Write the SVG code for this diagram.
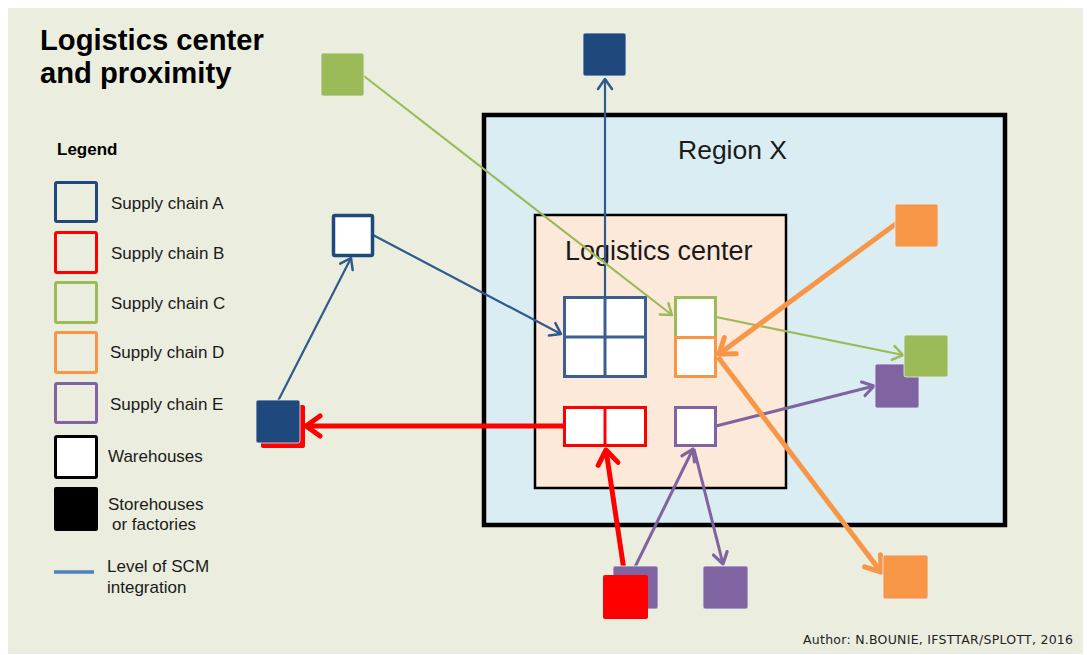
<svg xmlns="http://www.w3.org/2000/svg" width="1087" height="655" viewBox="0 0 1087 655">
<style>
text{font-family:"Liberation Sans",Arial,sans-serif;fill:#1a1a1a}
.title{font-size:29.2px;font-weight:bold;fill:#000}
.leg{font-size:17px}
.big{font-size:27px}
.lgbox{fill:none;stroke-width:3}
.solid{stroke:#e8ecf4;stroke-width:0.8}
.thin{fill:none;stroke-width:2.2}
.purp{fill:none;stroke-width:3}
.thick{fill:none;stroke-width:5}
</style>
<defs>
<marker id="aBlue" markerUnits="userSpaceOnUse" orient="auto" refX="0" refY="0" markerWidth="30" markerHeight="30" viewBox="-15 -15 30 30" overflow="visible"><path d="M-10,-7 L0,0 L-10,7" fill="none" stroke="#2E5A8E" stroke-width="2.5" stroke-linecap="round" stroke-linejoin="round"/></marker>
<marker id="aGreen" markerUnits="userSpaceOnUse" orient="auto" refX="0" refY="0" markerWidth="30" markerHeight="30" viewBox="-15 -15 30 30" overflow="visible"><path d="M-10,-7 L0,0 L-10,7" fill="none" stroke="#9BBB59" stroke-width="2.5" stroke-linecap="round" stroke-linejoin="round"/></marker>
<marker id="aPurple" markerUnits="userSpaceOnUse" orient="auto" refX="0" refY="0" markerWidth="30" markerHeight="30" viewBox="-15 -15 30 30" overflow="visible"><path d="M-11,-7 L0,0 L-11,7" fill="none" stroke="#8064A2" stroke-width="3.2" stroke-linecap="round" stroke-linejoin="round"/></marker>
<marker id="aOrange" markerUnits="userSpaceOnUse" orient="auto" refX="0" refY="0" markerWidth="40" markerHeight="40" viewBox="-20 -20 40 40" overflow="visible"><path d="M-14,-10 L0,0 L-14,10" fill="none" stroke="#F79646" stroke-width="5" stroke-linecap="round" stroke-linejoin="round"/></marker>
<marker id="aRed" markerUnits="userSpaceOnUse" orient="auto" refX="0" refY="0" markerWidth="40" markerHeight="40" viewBox="-20 -20 40 40" overflow="visible"><path d="M-14,-10 L0,0 L-14,10" fill="none" stroke="#FF0000" stroke-width="5" stroke-linecap="round" stroke-linejoin="round"/></marker>
</defs>

<rect x="0" y="0" width="1087" height="655" fill="#ffffff"/>
<rect x="8" y="8" width="1075" height="646" fill="#EBEEDE"/>

<g id="title">
<text class="title" x="40" y="50">Logistics center</text>
<text class="title" x="40" y="83">and proximity</text>
</g>

<g id="legend">
<text x="57" y="155" style="font-size:17px;font-weight:bold;fill:#000">Legend</text>
<rect class="lgbox" x="55.5" y="182.5" width="41" height="39" rx="1.5" stroke="#1F497D"/>
<text class="leg" x="111" y="209">Supply chain A</text>
<rect class="lgbox" x="55.5" y="232.5" width="41" height="40" rx="1.5" stroke="#FF0000"/>
<text class="leg" x="111" y="259">Supply chain B</text>
<rect class="lgbox" x="55.5" y="282.5" width="41" height="40" rx="1.5" stroke="#9BBB59"/>
<text class="leg" x="111" y="309">Supply chain C</text>
<rect class="lgbox" x="55.5" y="332.5" width="41" height="40" rx="1.5" stroke="#F79646"/>
<text class="leg" x="110" y="358">Supply chain D</text>
<rect class="lgbox" x="55.5" y="383.5" width="41" height="39" rx="1.5" stroke="#8064A2"/>
<text class="leg" x="110" y="410">Supply chain E</text>
<rect x="55.5" y="436.5" width="41" height="41" rx="1.5" fill="#fff" stroke="#000" stroke-width="3"/>
<text class="leg" x="108" y="462">Warehouses</text>
<rect x="54" y="487" width="44" height="44" rx="2" fill="#000"/>
<text class="leg" x="108" y="510">Storehouses</text>
<text class="leg" x="112" y="530">or factories</text>
<line x1="54" y1="572" x2="94" y2="572" stroke="#4F81BD" stroke-width="3.5"/>
<text class="leg" x="107" y="572">Level of SCM</text>
<text class="leg" x="107" y="593">integration</text>
</g>

<g id="region-x">
<rect x="484" y="115" width="521" height="410" fill="#DAEDF3" stroke="#000" stroke-width="4.5"/>
<text class="big" x="678" y="159" style="font-size:26.5px">Region X</text>
</g>

<g id="logistics-center">
<rect x="535" y="215" width="251" height="273" fill="#FDE9D9" stroke="#000" stroke-width="2.5"/>
<text class="big" x="565" y="260">Logistics center</text>
</g>

<g id="wh-A-grid">
<rect x="564.5" y="297.5" width="81" height="79" fill="#fff" stroke="#3B6090" stroke-width="3"/>
<line x1="605" y1="297.5" x2="605" y2="376.5" stroke="#3B6090" stroke-width="3"/>
<line x1="564.5" y1="337" x2="645.5" y2="337" stroke="#3B6090" stroke-width="3"/>
</g>
<g id="wh-C">
<rect x="675.5" y="297.5" width="40" height="40" fill="#fff" stroke="#9BBB59" stroke-width="3"/>
</g>
<g id="wh-D">
<rect x="675.5" y="337.5" width="40" height="39" fill="#fff" stroke="#F79646" stroke-width="3"/>
</g>
<g id="wh-B">
<rect x="564.5" y="407.5" width="81" height="38" fill="#fff" stroke="#FF0000" stroke-width="3"/>
<line x1="605" y1="407.5" x2="605" y2="445.5" stroke="#FF0000" stroke-width="3"/>
</g>
<g id="wh-E">
<rect x="675.5" y="407.5" width="40" height="38" fill="#fff" stroke="#8064A2" stroke-width="3"/>
</g>

<g id="connectors">
<line class="thin" x1="605" y1="297" x2="605" y2="79" stroke="#2E5A8E" marker-end="url(#aBlue)"/>
<line class="thin" x1="360" y1="73" x2="672" y2="315" stroke="#9BBB59" marker-end="url(#aGreen)"/>
<line class="thin" x1="716" y1="317" x2="903" y2="355" stroke="#9BBB59" marker-end="url(#aGreen)"/>
<line class="thin" x1="373" y1="235" x2="561" y2="334" stroke="#2E5A8E" marker-end="url(#aBlue)"/>
<line class="thin" x1="278" y1="401" x2="351" y2="258" stroke="#2E5A8E" marker-end="url(#aBlue)"/>
<line class="purp" x1="635" y1="567" x2="693" y2="449" stroke="#8064A2" marker-end="url(#aPurple)"/>
<line class="purp" x1="694" y1="449" x2="723" y2="564" stroke="#8064A2" marker-end="url(#aPurple)"/>
<line class="purp" x1="716" y1="426" x2="874" y2="386" stroke="#8064A2" marker-end="url(#aPurple)"/>
<line class="thick" x1="897" y1="223" x2="719" y2="354" stroke="#F79646" marker-end="url(#aOrange)"/>
<line class="thick" x1="718" y1="357" x2="881" y2="572" stroke="#F79646" marker-end="url(#aOrange)"/>
<line class="thick" x1="563" y1="426" x2="306" y2="426" stroke="#FF0000" marker-end="url(#aRed)"/>
<line class="thick" x1="625" y1="577" x2="606" y2="450" stroke="#FF0000" marker-end="url(#aRed)"/>
</g>

<g id="store-A-top"><rect class="solid" x="583" y="33" width="43" height="43" rx="2" fill="#1F497D"/></g>
<g id="store-C-topleft"><rect class="solid" x="321" y="53" width="43" height="43" rx="2" fill="#9BBB59"/></g>
<g id="wh-A-left"><rect x="333.5" y="215.5" width="39" height="40" fill="#fff" stroke="#1F497D" stroke-width="3.5" rx="1.5"/></g>
<g id="store-B-left"><rect x="261" y="405" width="44" height="43" rx="2" fill="#FF0000"/></g>
<g id="store-A-left"><rect class="solid" x="256" y="400" width="44" height="43" rx="2" fill="#1F497D"/></g>
<g id="store-D-topright"><rect class="solid" x="895" y="204" width="43" height="43" rx="2" fill="#F79646"/></g>
<g id="store-E-right"><rect class="solid" x="875" y="364" width="44" height="44" rx="2" fill="#8064A2"/></g>
<g id="store-C-right"><rect class="solid" x="904" y="335" width="44" height="42" rx="2" fill="#9BBB59"/></g>
<g id="store-D-bottomright"><rect class="solid" x="883" y="555" width="45" height="44" rx="2" fill="#F79646"/></g>
<g id="store-E-bottom"><rect class="solid" x="613" y="566" width="45" height="43" rx="2" fill="#8064A2"/></g>
<g id="store-B-bottom"><rect x="603" y="575" width="45" height="44" rx="2" fill="#FF0000"/></g>
<g id="store-E-bottomright"><rect class="solid" x="703" y="566" width="45" height="43" rx="2" fill="#8064A2"/></g>

<text x="803" y="644" textLength="270" lengthAdjust="spacing" style="font-family:'DejaVu Sans',Verdana,sans-serif;font-size:12.5px;fill:#222">Author: N.BOUNIE, IFSTTAR/SPLOTT, 2016</text>
</svg>
